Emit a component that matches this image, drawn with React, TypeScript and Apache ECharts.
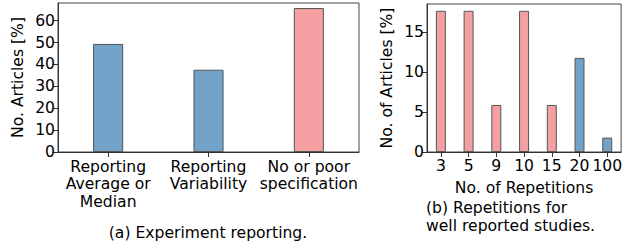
import React, { useEffect, useRef } from "react";
import * as echarts from "echarts";

const reportingCategories = ["Reporting\nAverage or\nMedian", "Reporting\nVariability", "No or poor\nspecification"];
const reportingValues = [49.4, 37.6, 65.8];
const reportingGroups = ["good", "good", "poor"];
const reportingTicks = [0, 10, 20, 30, 40, 50, 60];

const repetitionCategories = ["3", "5", "9", "10", "15", "20", "100"];
const repetitionValues = [17.65, 17.65, 5.88, 17.65, 5.88, 11.76, 1.8];
const repetitionGroups = ["poor", "poor", "poor", "poor", "poor", "good", "good"];
const repetitionTicks = [0, 5, 10, 15];

const captionA = "(a) Experiment reporting.";
const captionB = "(b) Repetitions for\nwell reported studies.";

const FONT = "DejaVu Sans";
const FS = 15.6;
const colorOf: Record<string, string> = { good: "#73a2c8", poor: "#f4a0a2" };

export default function App() {
  const ref = useRef<HTMLDivElement>(null);
  useEffect(() => {
    if (!ref.current) return;
    const chart = echarts.init(ref.current, undefined, { renderer: "svg" });
    const axisLine = { show: true, lineStyle: { color: "#333", width: 1 } };
    const tick = { show: true, length: 5, lineStyle: { color: "#333", width: 1 } };
    const lbl = { color: "#000", fontSize: FS, fontFamily: FONT };
    chart.setOption({
      animation: false,
      grid: [
        { left: 58, top: 3, width: 301, height: 149, show: true, borderColor: "#444", borderWidth: 1, containLabel: false },
        { left: 427, top: 4, width: 196, height: 148, show: true, borderColor: "#444", borderWidth: 1, containLabel: false },
      ],
      xAxis: [
        {
          type: "category", gridIndex: 0, data: reportingCategories, boundaryGap: true,
          axisLine, axisTick: { ...tick, alignWithLabel: true },
          axisLabel: { ...lbl, interval: 0, margin: 6, lineHeight: 17.5 },
          splitLine: { show: false },
        },
        {
          type: "category", gridIndex: 1, data: repetitionCategories, boundaryGap: true,
          axisLine, axisTick: { ...tick, alignWithLabel: true },
          axisLabel: { ...lbl, interval: 0, margin: 5, lineHeight: 17.5, hideOverlap: false },
          splitLine: { show: false },
          name: "No. of Repetitions", nameLocation: "middle", nameGap: 24,
          nameTextStyle: { ...lbl, lineHeight: 17.5, verticalAlign: "top" },
        },
      ],
      yAxis: [
        {
          type: "value", gridIndex: 0, min: 0, max: 68.1,
          axisLine, axisTick: { ...tick, customValues: reportingTicks },
          axisLabel: { ...lbl, margin: 3, customValues: reportingTicks },
          splitLine: { show: false },
          name: "No. Articles [%]", nameLocation: "middle", nameGap: 32,
          nameTextStyle: { ...lbl },
        },
        {
          type: "value", gridIndex: 1, min: 0, max: 18.5,
          axisLine, axisTick: { ...tick, customValues: repetitionTicks },
          axisLabel: { ...lbl, margin: 3, customValues: repetitionTicks },
          splitLine: { show: false },
          name: "No. of Articles [%]", nameLocation: "middle", nameGap: 32,
          nameTextStyle: { ...lbl },
        },
      ],
      series: [
        {
          type: "bar", xAxisIndex: 0, yAxisIndex: 0, barWidth: "30%",
          data: reportingValues.map((v, i) => ({
            value: v,
            itemStyle: { color: colorOf[reportingGroups[i]], borderColor: "#555", borderWidth: 1 },
          })),
        },
        {
          type: "bar", xAxisIndex: 1, yAxisIndex: 1, barWidth: "36%",
          data: repetitionValues.map((v, i) => ({
            value: v,
            itemStyle: { color: colorOf[repetitionGroups[i]], borderColor: "#555", borderWidth: 1 },
          })),
        },
      ],
      graphic: [
        {
          type: "text", x: 208, y: 233,
          style: { text: captionA, fontSize: FS, fontFamily: FONT, fill: "#000", textAlign: "center", textVerticalAlign: "middle" },
        },
        {
          type: "text", x: 426, y: 199,
          style: { text: captionB, fontSize: FS, fontFamily: FONT, fill: "#000", textAlign: "left", textVerticalAlign: "top", lineHeight: 18 },
        },
      ],
    });
    return () => chart.dispose();
  }, []);
  return <div ref={ref} style={{ width: 625, height: 248, position: "absolute", left: 0, top: 0 }} />;
}
